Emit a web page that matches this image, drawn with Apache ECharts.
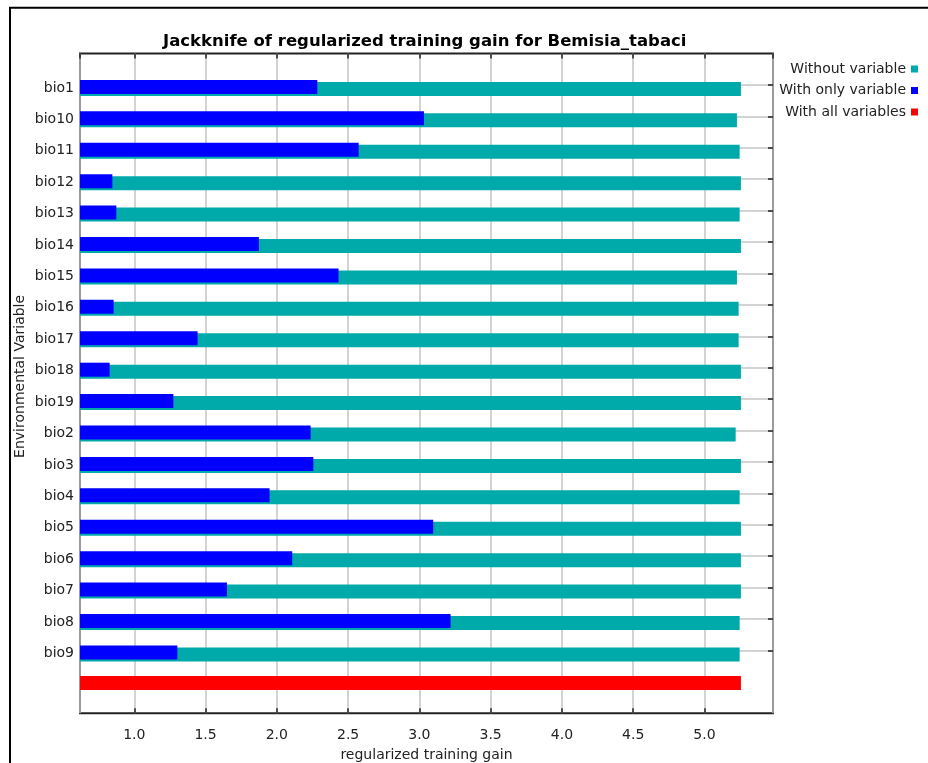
<!DOCTYPE html>
<html>
<head>
<meta charset="utf-8">
<script src="https://cdn.jsdelivr.net/npm/echarts@6/dist/echarts.min.js"></script>
<style>
html,body{margin:0;padding:0;background:#fff;overflow:hidden;}
#chart{width:928px;height:763px;}
</style>
</head>
<body>
<div id="chart"></div>
<script>
// ---- data ----
const categories = ['bio1','bio10','bio11','bio12','bio13','bio14','bio15','bio16','bio17','bio18','bio19','bio2','bio3','bio4','bio5','bio6','bio7','bio8','bio9'];
const withoutVariable = [5.256, 5.228, 5.247, 5.256, 5.247, 5.256, 5.228, 5.240, 5.240, 5.256, 5.256, 5.219, 5.256, 5.247, 5.256, 5.256, 5.256, 5.247, 5.247];
const withOnlyVariable = [2.284, 3.032, 2.574, 0.846, 0.874, 1.874, 2.433, 0.855, 1.444, 0.827, 1.274, 2.237, 2.256, 1.949, 3.097, 2.108, 1.650, 3.219, 1.302];
const withAllVariables = [5.256];
const legendNames = ['Without variable', 'With only variable', 'With all variables'];
const titleText = 'Jackknife of regularized training gain for Bemisia_tabaci';
const xAxisName = 'regularized training gain';
const yAxisName = 'Environmental Variable';

// ---- layout / style ----
const FONT = 'DejaVu Sans';
const TEAL = '#00AAAA', BLUE = '#0000FF', RED = '#FF0000';
const X_MIN = 0.619, X_MAX = 5.481;
const PAD_TOP = '_top', ALL = '_all', PAD_BOTTOM = '_bottom';
const yCats = [PAD_TOP].concat(categories, [ALL, PAD_BOTTOM]);
const isVar = (index, value) => categories.indexOf(value) >= 0;

function barRenderer(offset, height) {
  return function (params, api) {
    const end = api.coord([api.value(0), api.value(1)]);
    const x0 = params.coordSys.x;
    return {
      type: 'rect',
      shape: { x: x0, y: end[1] + offset, width: end[0] - x0, height: height },
      style: { fill: api.visual('color') }
    };
  };
}

const chart = echarts.init(document.getElementById('chart'), null, { renderer: 'canvas', width: 928, height: 763 });
chart.setOption({
  animation: false,
  backgroundColor: '#fff',
  title: {
    text: titleText,
    left: 163,
    top: 33,
    padding: 0,
    textStyle: { fontFamily: FONT, fontWeight: 'bold', fontSize: 16.5, color: '#000' }
  },
  legend: {
    orient: 'vertical',
    right: 5,
    top: 57,
    align: 'right',
    icon: 'rect',
    itemWidth: 7,
    itemHeight: 7,
    itemGap: 7.5,
    textStyle: { fontFamily: FONT, fontSize: 14, color: '#222', lineHeight: 14 },
    data: legendNames
  },
  graphic: [{
    type: 'rect', silent: true, z: -10,
    shape: { x: 10, y: 7.7, width: 1000, height: 1000 },
    style: { fill: 'none', stroke: '#000', lineWidth: 2 }
  }],
  grid: {
    left: 80, right: 155, top: 53.5, bottom: 49.7,
    outerBoundsMode: 'none',
    containLabel: false,
    show: true, borderColor: '#222', borderWidth: 2, backgroundColor: 'transparent'
  },
  xAxis: [{
    type: 'value', position: 'bottom', min: X_MIN, max: X_MAX,
    minInterval: 0.5, maxInterval: 0.5,
    axisLine: { show: false },
    axisTick: { show: true, inside: true, length: 5, lineStyle: { color: '#222', width: 1.5 } },
    axisLabel: {
      fontFamily: FONT, fontSize: 14, color: '#222', margin: 15,
      showMinLabel: false, showMaxLabel: false,
      formatter: v => v.toFixed(1)
    },
    splitLine: { show: true, lineStyle: { color: '#c4c4c4', width: 1.5 } },
    name: xAxisName, nameLocation: 'middle', nameGap: 35, nameMoveOverlap: false,
    nameTextStyle: { fontFamily: FONT, fontSize: 14, color: '#222' }
  }, {
    type: 'value', position: 'top', min: X_MIN, max: X_MAX,
    minInterval: 0.5, maxInterval: 0.5,
    axisLine: { show: false },
    axisTick: { show: true, inside: true, length: 5, lineStyle: { color: '#222', width: 1.5 } },
    axisLabel: { show: false },
    splitLine: { show: false }
  }],
  yAxis: [{
    type: 'category', data: yCats, inverse: true, boundaryGap: false,
    axisLine: { show: false },
    axisTick: { show: false },
    axisLabel: {
      interval: 0, margin: 6, fontFamily: FONT, fontSize: 14, color: '#222',
      formatter: v => (categories.indexOf(v) >= 0 ? '{t|' + v + '}' : ''),
      rich: { t: { fontFamily: FONT, fontSize: 14, color: '#222', padding: [6, 0, 0, 0] } }
    },
    splitLine: { show: true, interval: isVar, lineStyle: { color: '#c4c4c4', width: 1.5 } },
    name: yAxisName, nameLocation: 'middle', nameGap: 53, nameRotate: 90, nameMoveOverlap: false,
    nameTextStyle: { fontFamily: FONT, fontSize: 14, color: '#222', padding: [0, 0, 0, 14] }
  }, {
    type: 'category', data: yCats, inverse: true, boundaryGap: false, position: 'right',
    axisLine: { show: false },
    axisTick: { show: true, inside: true, length: 5, interval: isVar, lineStyle: { color: '#222', width: 1.5 } },
    axisLabel: { show: false },
    splitLine: { show: false }
  }],
  series: [{
    type: 'custom', name: legendNames[0], xAxisIndex: 0, yAxisIndex: 0, z: 2,
    itemStyle: { color: TEAL },
    encode: { x: 0, y: 1 },
    renderItem: barRenderer(-3, 14),
    data: categories.map((c, i) => [withoutVariable[i], c])
  }, {
    type: 'custom', name: legendNames[1], xAxisIndex: 0, yAxisIndex: 0, z: 3,
    itemStyle: { color: BLUE },
    encode: { x: 0, y: 1 },
    renderItem: barRenderer(-5, 14),
    data: categories.map((c, i) => [withOnlyVariable[i], c])
  }, {
    type: 'custom', name: legendNames[2], xAxisIndex: 0, yAxisIndex: 0, z: 2,
    itemStyle: { color: RED },
    encode: { x: 0, y: 1 },
    renderItem: barRenderer(-6, 14),
    data: [[withAllVariables[0], ALL]]
  }]
});
</script>
</body>
</html>
